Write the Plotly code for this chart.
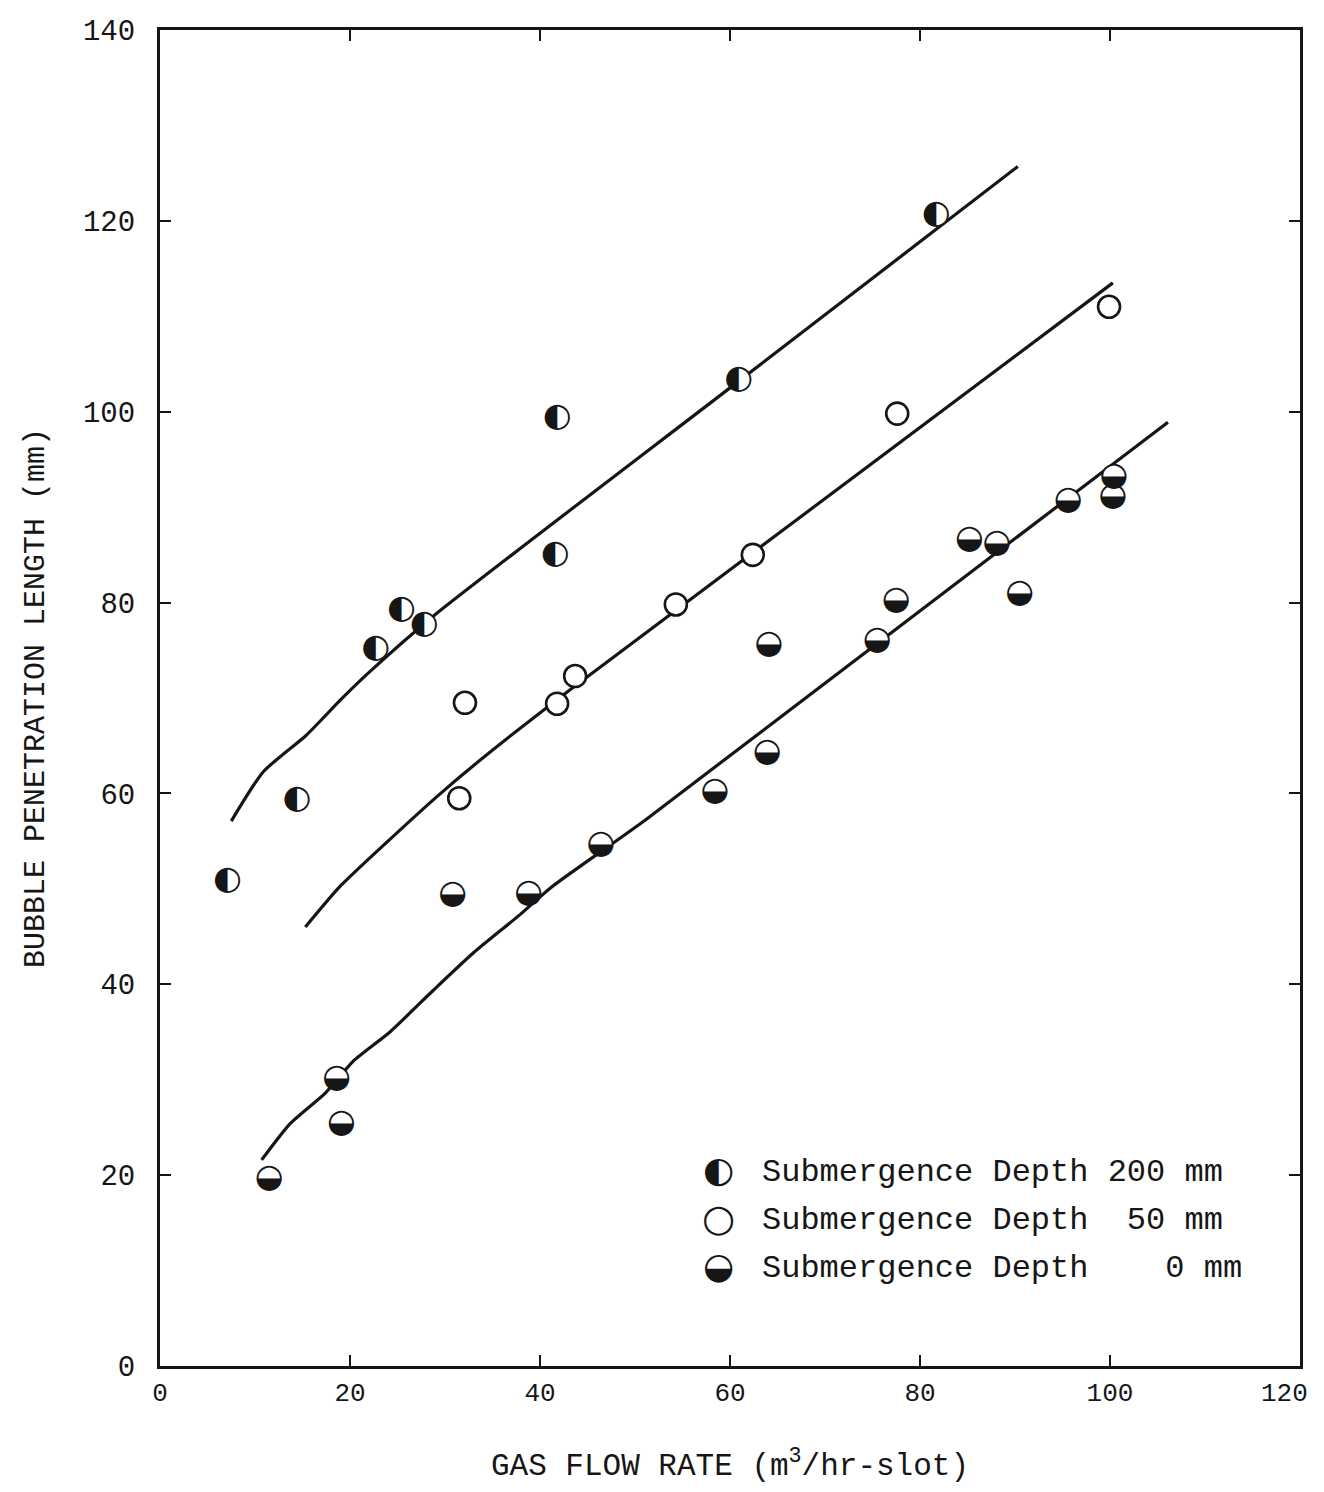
import plotly.graph_objects as go

# ---------------- data ----------------
x_200 = [7.1, 14.4, 22.7, 25.4, 27.8, 41.6, 41.8, 60.9, 81.7]
y_200 = [50.8, 59.3, 75.2, 79.2, 77.7, 85.0, 99.4, 103.3, 120.6]

x_50 = [31.5, 32.1, 41.8, 43.7, 54.3, 62.4, 77.6, 99.9]
y_50 = [59.5, 69.5, 69.4, 72.3, 79.8, 85.0, 99.8, 111.0]

x_0 = [11.5, 18.6, 19.1, 30.8, 38.8, 46.4, 58.4, 63.9, 64.1, 75.5, 77.5,
       85.2, 88.1, 90.5, 95.6, 100.4, 100.3]
y_0 = [19.6, 30.1, 25.4, 49.4, 49.5, 54.6, 60.2, 64.3, 75.6, 76.0, 80.2,
       86.6, 86.2, 80.9, 90.7, 93.2, 91.1]

# fitted curves
fx_200 = [7.5, 10.9, 15.4, 19.0, 21.8, 28.8, 60.0, 90.3]
fy_200 = [57.1, 62.3, 66.1, 69.8, 72.5, 78.6, 102.5, 125.7]

fx_50 = [15.3, 18.9, 24.0, 29.3, 34.2, 43.2, 100.3]
fy_50 = [46.0, 50.2, 55.0, 59.8, 63.9, 70.9, 113.5]

fx_0 = [10.7, 13.7, 17.4, 20.3, 24.2, 28.8, 33.0, 37.9, 41.1, 51.2, 106.1]
fy_0 = [21.6, 25.4, 28.6, 31.9, 35.0, 39.4, 43.3, 47.3, 50.1, 57.3, 98.9]

x_ticks = [0, 20, 40, 60, 80, 100, 120]
x_tick_labels = ["0", "20", "40", "60", "80", "100", "120\u00a0\u00a0"]
y_ticks = [0, 20, 40, 60, 80, 100, 120, 140]

legend_labels = ["Submergence Depth 200 mm",
                 "Submergence Depth \u00a050 mm",
                 "Submergence Depth \u00a0\u00a0\u00a00 mm"]
legend_glyphs = ["\u25D0", "\u25CB", "\u25D2"]

INK = "#161616"
MONO = "Liberation Mono, Courier New, monospace"
GLYPH = "DejaVu Sans"

fig = go.Figure()

# curves
for fx, fy, nm in [(fx_200, fy_200, "fit 200 mm"), (fx_50, fy_50, "fit 50 mm"), (fx_0, fy_0, "fit 0 mm")]:
    fig.add_trace(go.Scatter(x=fx, y=fy, mode="lines", name=nm,
                             line=dict(color=INK, width=3.2, shape="spline", smoothing=0.6),
                             showlegend=False, hoverinfo="skip"))

# 200 mm: left-half-filled circles
fig.add_trace(go.Scatter(x=x_200, y=y_200, mode="markers+text", name="Submergence Depth 200 mm",
                         marker=dict(symbol="circle", size=23, color="white"),
                         text=[legend_glyphs[0]] * len(x_200), textposition="middle center",
                         textfont=dict(family=GLYPH, size=33, color=INK), showlegend=False))
# 50 mm: open circles
fig.add_trace(go.Scatter(x=x_50, y=y_50, mode="markers", name="Submergence Depth 50 mm",
                         marker=dict(symbol="circle", size=22, color="white",
                                     line=dict(color=INK, width=2.6)), showlegend=False))
# 0 mm: lower-half-filled circles
fig.add_trace(go.Scatter(x=x_0, y=y_0, mode="markers+text", name="Submergence Depth 0 mm",
                         marker=dict(symbol="circle", size=23, color="white"),
                         text=[legend_glyphs[2]] * len(x_0), textposition="middle center",
                         textfont=dict(family=GLYPH, size=33, color=INK), showlegend=False))

# hand-made legend
for i, (g, lab) in enumerate(zip(legend_glyphs, legend_labels)):
    yy = 0.145 - i * 0.036
    fig.add_annotation(xref="paper", yref="paper", x=0.4895, y=yy + 0.002, text=g, showarrow=False,
                       xanchor="center", yanchor="middle",
                       font=dict(family=GLYPH, size=36 if i != 1 else 38, color=INK))
    fig.add_annotation(xref="paper", yref="paper", x=0.526, y=yy, text=lab, showarrow=False,
                       xanchor="left", yanchor="middle",
                       font=dict(family=MONO, size=32, color=INK))

axis_common = dict(showline=True, linecolor=INK, linewidth=3, mirror="ticks",
                   ticks="inside", ticklen=11, tickwidth=2, tickcolor=INK,
                   showgrid=False, zeroline=False, ticklabeloverflow="allow")

fig.update_xaxes(range=[0, 120], tickvals=x_ticks, ticktext=x_tick_labels,
                 tickfont=dict(family=MONO, size=26, color=INK), ticklabelstandoff=1,
                 title=dict(text="GAS FLOW RATE (m<sup>3</sup>/hr-slot)",
                            font=dict(family=MONO, size=31, color=INK), standoff=56),
                 **axis_common)
fig.update_yaxes(range=[0, 140], tickvals=y_ticks, ticktext=[str(v) for v in y_ticks],
                 tickfont=dict(family=MONO, size=29, color=INK), ticklabelstandoff=16,
                 title=dict(text="BUBBLE PENETRATION LENGTH (mm)",
                            font=dict(family=MONO, size=30, color=INK), standoff=30),
                 **axis_common)

# the page body has an 8 px margin, so the figure is offset by 8 px inside the window
fig.update_layout(width=1308, height=1476, plot_bgcolor="white", paper_bgcolor="white",
                  margin=dict(l=152, r=16, t=22, b=118, autoexpand=False), showlegend=False)

fig.write_html("out.html")
